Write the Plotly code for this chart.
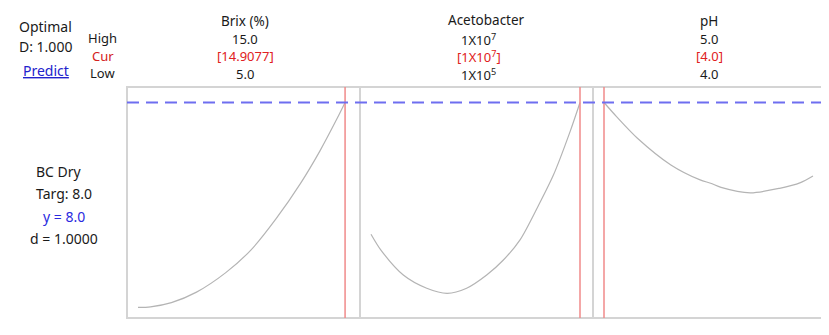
import plotly.graph_objects as go

# ---------------- data ----------------
brix = [5.0, 5.6, 6.6, 7.8, 9.2, 10.4, 11.6, 12.8, 13.7, 14.5, 14.9077]
bc_brix = [1.17, 1.19, 1.33, 1.68, 2.33, 3.08, 4.12, 5.33, 6.38, 7.43, 8.0]

acet = [1.0e5, 5.7e5, 1.63e6, 2.74e6, 3.71e6, 4.63e6, 5.58e6, 6.37e6, 7.16e6, 8.02e6, 8.74e6, 9.53e6, 1.0e7]
bc_acet = [3.61, 3.08, 2.25, 1.81, 1.64, 1.81, 2.25, 2.75, 3.42, 4.55, 5.58, 7.03, 8.0]

ph = [4.0, 4.06, 4.16, 4.32, 4.46, 4.51, 4.56, 4.70, 4.84, 4.94, 5.0]
bc_ph = [8.0, 7.53, 6.81, 5.92, 5.42, 5.31, 5.17, 4.99, 5.14, 5.33, 5.55]

factor_names = ["Brix (%)", "Acetobacter", "pH"]
high_labels = ["15.0", "1X10<sup>7</sup>", "5.0"]
cur_labels = ["[14.9077]", "[1X10<sup>7</sup>]", "[4.0]"]
low_labels = ["5.0", "1X10<sup>5</sup>", "4.0"]
low_vals = [5.0, 1.0e5, 4.0]
high_vals = [15.0, 1.0e7, 5.0]
cur_vals = [14.9077, 1.0e7, 4.0]
target = 8.0

# ---------------- layout helpers ----------------
# the page body has an 8px margin, so the figure starts at (8, 8) of the window
OFF = 8
W, H = 829 - OFF, 335 - OFF

def px(x):
    return (x - OFF) / W

def py(y):
    return 1 - (y - OFF) / H

panel_left = [127, 360, 593]
panel_w = 233
pad_l, span = 11, 209
top_px, bot_px = 87, 318
y_px_per_unit = 30.0
y_target_px = 102.5
y_top = target + (y_target_px - top_px) / y_px_per_unit
y_bot = target - (bot_px - y_target_px) / y_px_per_unit

fig = go.Figure()
xs = [brix, acet, ph]
ys = [bc_brix, bc_acet, bc_ph]
axnames = ["x", "x2", "x3"]
for i in range(3):
    fig.add_trace(go.Scatter(
        x=xs[i], y=ys[i], xaxis=axnames[i], yaxis="y", mode="lines",
        line=dict(color="#b4b4b4", width=1.2, shape="spline", smoothing=0.8),
        hoverinfo="skip", showlegend=False))

layout = dict(
    width=W, height=H, margin=dict(l=0, r=0, t=0, b=0),
    paper_bgcolor="white", plot_bgcolor="white",
    font=dict(family="Noto Sans, Open Sans, sans-serif", size=14, color="#1a1a1a"),
    yaxis=dict(domain=[py(bot_px), py(top_px)], range=[y_bot, y_top], anchor="x",
               showgrid=False, zeroline=False, showticklabels=False, showline=False, ticks=""),
)
for i in range(3):
    lo, hi = low_vals[i], high_vals[i]
    unit = (hi - lo) / span
    rng = [lo - pad_l * unit, lo + (panel_w - pad_l) * unit]
    key = "xaxis" if i == 0 else f"xaxis{i+1}"
    layout[key] = dict(domain=[px(panel_left[i]), px(panel_left[i] + panel_w)], range=rng,
                       anchor="y", showgrid=False, zeroline=False, showticklabels=False,
                       showline=False, ticks="")
fig.update_layout(**layout)

shapes = []
for i in range(3):
    shapes.append(dict(type="rect", xref="paper", yref="paper",
                       x0=px(panel_left[i]), x1=px(panel_left[i] + panel_w),
                       y0=py(bot_px), y1=py(top_px),
                       line=dict(color="#d4d4d4", width=2), layer="below"))
for i in range(3):
    xr = "x" if i == 0 else f"x{i+1}"
    shapes.append(dict(type="line", xref=xr, yref="paper", x0=cur_vals[i], x1=cur_vals[i],
                       y0=py(bot_px), y1=py(top_px),
                       line=dict(color="#f08a8a", width=1.5)))
shapes.append(dict(type="line", xref="paper", yref="y", x0=px(127), x1=px(826),
                   y0=target, y1=target,
                   line=dict(color="#6e6ef0", width=2, dash="12px,7px")))
fig.update_layout(shapes=shapes)

ann = []
def txt(x, y, s, color="#1a1a1a", size=14):
    ann.append(dict(x=px(x), y=py(y), xref="paper", yref="paper", text=s, showarrow=False,
                    xanchor="center", yanchor="middle", font=dict(color=color, size=size)))

txt(45, 26, "Optimal")
txt(45, 46, "D: 1.000")
txt(45.5, 71, "<u>Predict</u>", color="#2222cc")
txt(102, 38, "High", size=13)
txt(102.5, 55.5, "Cur", color="#d42020", size=13)
txt(102, 72.5, "Low", size=13)

name_x = [245, 486.5, 709]
val_x = [245, 479, 709]
name_y = [21, 19.5, 21]
for i in range(3):
    txt(name_x[i], name_y[i], factor_names[i], size=13.5)
    txt(val_x[i], 39, high_labels[i], size=13)
    txt(val_x[i], 56.5, cur_labels[i], color="#e02020", size=13)
    txt(val_x[i], 74, low_labels[i], size=13)

txt(59, 171, "BC Dry")
txt(64, 193, "Targ: 8.0")
txt(64, 216, "y = 8.0", color="#2a2ae0")
txt(64, 238, "d = 1.0000")
fig.update_layout(annotations=ann)

fig.write_html("out.html")
